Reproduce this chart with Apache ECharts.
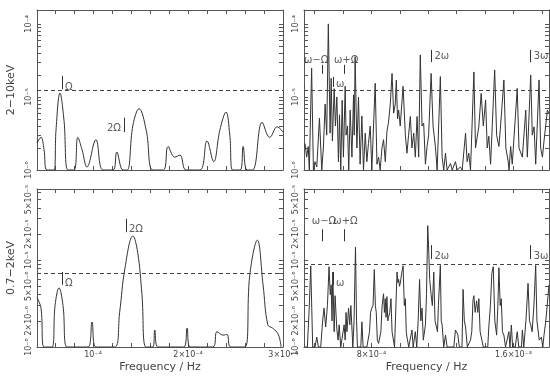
<!DOCTYPE html>
<html>
<head>
<meta charset="utf-8">
<script src="https://cdn.jsdelivr.net/npm/echarts@6/dist/echarts.min.js"></script>
<style>
  html, body { margin: 0; background: #fff; }
  #chart { width: 550px; height: 377px; }
</style>
</head>
<body>
<div id="chart"></div>
<script>
// power spectra, left panels: freq in units of 1e-5 Hz, right panels: 1e-4 Hz
const tlFreq = [4.1, 4.52, 4.84, 5.15, 5.9, 6.1, 6.52, 6.94, 7.36, 8.0, 8.4, 8.84, 9.36, 10.3, 11.05, 12.1, 12.5, 13.15, 13.6, 14.2, 14.85, 15.6, 16.3, 17.4, 17.9, 18.6, 19.15, 19.8, 21.25, 22.0, 22.7, 23.35, 24.0, 24.4, 24.7, 25.5, 25.8, 26.2, 26.8, 27.8, 28.6, 29.4, 30.0];
const tlPower = [2.35e-6, 2.8e-6, 1.9e-6, 1e-6, 1e-6, 3.5e-6, 1.13e-5, 4.8e-6, 1e-6, 1e-6, 2.8e-6, 1.9e-6, 1.1e-6, 2.6e-6, 1e-6, 1e-6, 1.76e-6, 1e-6, 1e-6, 4.1e-6, 6.9e-6, 3.5e-6, 1e-6, 1e-6, 2.1e-6, 1.5e-6, 1.6e-6, 1e-6, 1e-6, 2.5e-6, 1.3e-6, 3.5e-6, 6.2e-6, 3e-6, 1e-6, 1e-6, 2.1e-6, 1e-6, 1e-6, 4.5e-6, 2.8e-6, 3.9e-6, 3.3e-6];

const blFreq = [4.1, 4.52, 4.84, 5.68, 6.0, 6.42, 6.84, 7.26, 9.47, 9.89, 10.3, 12.3, 12.8, 13.36, 14.2, 14.7, 15.15, 15.57, 16.3, 16.5, 16.8, 19.57, 19.9, 20.2, 22.6, 23.05, 23.7, 24.1, 24.5, 26.0, 26.5, 27.3, 27.9, 28.4, 28.9, 29.5, 29.8];
const blPower = [3.7e-6, 2.8e-6, 1e-6, 1e-6, 3.0e-6, 4.8e-6, 3.0e-6, 1e-6, 1e-6, 1.94e-6, 1e-6, 1e-6, 2.5e-6, 8.1e-6, 1.9e-5, 1.23e-5, 4e-6, 1e-6, 1e-6, 1.57e-6, 1e-6, 1e-6, 1.65e-6, 1e-6, 1e-6, 1.5e-6, 1.37e-6, 1.4e-6, 1e-6, 1e-6, 6.7e-6, 1.7e-5, 5.2e-6, 1.8e-6, 1.65e-6, 1.4e-6, 1e-6];

const trFreq = [4.26, 4.35, 4.44, 4.5, 4.63, 4.73, 4.82, 4.92, 5.07, 5.2,
  5.29, 5.39, 5.48, 5.57, 5.67, 5.73, 5.8, 5.9, 5.97, 6.05,
  6.14, 6.2, 6.27, 6.35, 6.42, 6.52, 6.57, 6.65, 6.72, 6.8,
  6.9, 6.99, 7.03, 7.08, 7.18, 7.27, 7.36, 7.46, 7.55, 7.65,
  7.74, 7.83, 7.93, 8.02, 8.21, 8.31, 8.4, 8.49, 8.59, 8.68,
  8.78, 8.87, 8.96, 9.06, 9.16, 9.25, 9.34, 9.4, 9.47, 9.53,
  9.62, 9.78, 9.91, 10.0, 10.09, 10.19, 10.28, 10.38, 10.47, 10.57,
  10.66, 10.75, 10.85, 10.94, 11.04, 11.13, 11.22, 11.36, 11.47, 11.6,
  11.7, 11.88, 11.98, 12.07, 12.17, 12.26, 12.45, 12.55, 12.73, 12.83,
  13.01, 13.11, 13.3, 13.39, 13.48, 13.58, 13.77, 13.86, 13.96, 14.05,
  14.18, 14.3, 14.43, 14.52, 14.61, 14.71, 14.94, 15.05, 15.18, 15.27,
  15.46, 15.57, 15.69, 15.75, 15.84, 15.93, 16.21, 16.31, 16.4, 16.5,
  16.69, 16.78, 16.97, 17.06, 17.16, 17.25, 17.44, 17.53, 17.63, 17.72,
  17.91, 18.0];
const trPower = [2.3e-6, 1.5e-6, 2.1e-6, 1e-6, 2.47e-5, 1e-6, 1.3e-6, 1.1e-6, 5.1e-6, 1e-6,
  2e-6, 8e-6, 3e-6, 1e-4, 3.2e-6, 1.8e-5, 2.5e-6, 1.3e-5, 4e-6, 1.0e-5,
  1.3e-6, 5.7e-6, 1e-6, 9e-6, 1.5e-6, 1.4e-5, 3e-6, 4e-6, 1e-6, 6.6e-6,
  1.5e-6, 1.07e-5, 3e-6, 3.56e-5, 2e-6, 1.0e-5, 1.2e-6, 5.5e-6, 1e-6, 3.2e-6,
  1.3e-6, 2.3e-6, 4e-6, 1e-6, 1.54e-5, 1.2e-6, 1.5e-6, 1e-6, 2e-6, 2.6e-6,
  1.3e-6, 3.35e-6, 4.5e-6, 8e-6, 2.1e-5, 6e-6, 8e-6, 1.7e-5, 5e-6, 6.6e-6,
  4e-6, 1.4e-5, 3e-6, 1.7e-6, 3e-6, 5.4e-6, 2e-6, 3.2e-6, 1.5e-6, 5.4e-6,
  1.5e-6, 3.76e-5, 4e-6, 4.4e-6, 1.2e-6, 2.1e-6, 3e-6, 2.1e-5, 4e-6, 2.1e-6,
  1e-6, 1.9e-5, 1.5e-6, 1e-6, 1.7e-6, 1e-6, 1.23e-6, 1e-6, 1.3e-6, 1e-6,
  1.1e-6, 1e-6, 3.2e-6, 1.3e-6, 1.7e-6, 1e-6, 2.2e-5, 2e-6, 1.9e-6, 4e-6,
  1.12e-5, 4e-6, 9.1e-6, 2e-6, 2.9e-6, 1.2e-6, 2.34e-5, 3e-6, 2.1e-6, 4e-6,
  1.71e-5, 2e-6, 1.37e-6, 1e-6, 2.1e-6, 1.2e-6, 1.31e-5, 2e-6, 1.9e-6, 1.5e-6,
  6.6e-6, 1.5e-6, 2.0e-5, 3e-6, 3.9e-6, 1.2e-6, 1.71e-5, 2e-6, 1.5e-6, 2.5e-6,
  6.6e-6, 6e-6];

const brFreq = [4.26, 4.39, 4.5, 4.58, 4.69, 4.82, 4.92, 5.01, 5.14, 5.26,
  5.33, 5.42, 5.52, 5.61, 5.68, 5.73, 5.78, 5.82, 5.9, 5.95,
  6.05, 6.12, 6.18, 6.27, 6.38, 6.46, 6.52, 6.57, 6.62, 6.71,
  6.78, 6.84, 6.95, 7.02, 7.1, 7.16, 7.21, 7.4, 7.46, 7.53,
  7.74, 7.89, 7.95, 8.02, 8.09, 8.16, 8.22, 8.27, 8.33, 8.4,
  8.53, 8.6, 8.68, 8.73, 8.78, 8.82, 8.87, 8.92, 8.96, 9.03,
  9.1, 9.16, 9.21, 9.3, 9.44, 9.49, 9.53, 9.58, 9.62, 9.7,
  9.78, 9.85, 9.91, 9.96, 10.0, 10.1, 10.2, 10.28, 10.35, 10.4,
  10.47, 10.55, 10.63, 10.71, 10.78, 10.85, 10.92, 11.04, 11.1, 11.17,
  11.23, 11.28, 11.36, 11.43, 11.51, 11.58, 11.66, 11.72, 11.77, 11.88,
  11.93, 11.98, 12.07, 12.17, 12.26, 12.64, 12.73, 12.86, 12.95, 13.1,
  13.16, 13.23, 13.3, 13.4, 13.58, 13.65, 13.72, 13.77, 13.84, 13.92,
  13.99, 14.05, 14.12, 14.18, 14.3, 14.55, 14.61, 14.7, 14.78, 14.86,
  14.95, 15.05, 15.12, 15.18, 15.25, 15.31, 15.38, 15.46, 15.55, 15.66,
  15.74, 15.8, 15.88, 15.95, 16.1, 16.21, 16.3, 16.45, 16.5, 16.58,
  16.7, 16.82, 16.9, 16.97, 17.05, 17.15, 17.25, 17.32, 17.38, 17.45,
  17.57, 17.65, 17.72, 17.82, 17.91, 18.0];
const brPower = [1e-6, 1e-6, 3e-6, 8.6e-6, 1e-6, 1e-6, 1.3e-6, 1e-6, 1e-6, 2.1e-6,
  2.8e-6, 1.7e-6, 3e-6, 8.4e-6, 4e-6, 5.2e-6, 2e-6, 7.3e-6, 1.5e-6, 3.9e-6,
  1.6e-6, 1.2e-6, 1.8e-6, 1e-6, 1e-6, 1.8e-6, 1.2e-6, 2.5e-6, 1.5e-6, 2.8e-6,
  1.8e-6, 3e-6, 1e-6, 2e-6, 1.42e-5, 2e-6, 1e-6, 1e-6, 1.95e-6, 1e-6,
  1e-6, 1.5e-6, 2.5e-6, 2.8e-6, 3e-6, 7.8e-6, 3e-6, 2.5e-6, 1.2e-6, 1.1e-6,
  1.5e-6, 3e-6, 4.1e-6, 2.5e-6, 3.6e-6, 2.2e-6, 3.8e-6, 2e-6, 2.2e-6, 2.5e-6,
  3.6e-6, 1.5e-6, 1.5e-6, 1e-6, 7.3e-6, 5.5e-6, 6e-6, 5e-6, 5.4e-6, 7e-6,
  8.6e-6, 3e-6, 3.6e-6, 1.5e-6, 1.3e-6, 1e-6, 1e-6, 1.57e-6, 1e-6, 1e-6,
  1.5e-6, 1e-6, 2e-6, 6e-6, 2e-6, 2.8e-6, 1.2e-6, 1.8e-6, 4e-6, 2.5e-5,
  1.2e-5, 6e-6, 4e-6, 3e-6, 7.3e-6, 2e-6, 2.1e-6, 1.5e-6, 3e-6, 8.7e-6,
  2e-6, 1.8e-6, 1e-6, 1.37e-6, 1e-6, 1e-6, 1.57e-6, 1.4e-6, 1e-6, 1e-6,
  4.6e-6, 2e-6, 1.7e-6, 1e-6, 1.2e-6, 1.5e-6, 3.5e-6, 3.9e-6, 2.5e-6, 3.4e-6,
  2.5e-6, 3.6e-6, 1.5e-6, 1.5e-6, 1e-6, 1e-6, 1.7e-6, 3e-6, 7e-6, 8.4e-6,
  2e-6, 1.37e-6, 3e-6, 8.2e-6, 3e-6, 3.6e-6, 1.5e-6, 1.37e-6, 1e-6, 1e-6,
  1.5e-6, 1e-6, 1.79e-6, 1e-6, 1e-6, 1.5e-6, 1e-6, 1e-6, 1.57e-6, 1e-6,
  2e-6, 5.4e-6, 2e-6, 1.8e-6, 1.5e-6, 3e-6, 8.7e-6, 2e-6, 2e-6, 1.2e-6,
  1.3e-6, 1e-6, 1.37e-6, 2e-6, 3.2e-6, 5.2e-6];

// significance levels (dashed)
const topLevel = 1.25e-5;
const blLevel = 7.0e-6;
const brLevel = 9.0e-6;

// frequency markers: [freq Hz, low, high]
const tlMarks = [[6.73e-5, 1.28e-5, 1.94e-5], [13.26e-5, 3.3e-6, 5.2e-6]];
const trMarks = [[5.2e-4, 2.07e-5, 2.75e-5], [6.46e-4, 2.07e-5, 2.75e-5], [5.84e-4, 1.37e-5, 1.88e-5], [11.38e-4, 3.0e-5, 4.4e-5], [16.97e-4, 3.0e-5, 4.4e-5]];
const blMarks = [[13.47e-5, 2.1e-5, 3.0e-5], [6.73e-5, 5.2e-6, 7.3e-6]];
const brMarks = [[5.2e-4, 1.65e-5, 2.27e-5], [6.46e-4, 1.65e-5, 2.27e-5], [5.84e-4, 5.2e-6, 7.3e-6], [11.38e-4, 1.03e-5, 1.49e-5], [16.97e-4, 1.03e-5, 1.49e-5]];

// marker texts: [text, freq, power, side]
const tlNotes = [['Ω', 6.73e-5, 1.37e-5, 'right'], ['2Ω', 13.26e-5, 3.76e-6, 'left']];
const trNotes = [['ω−Ω', 4.88e-4, 3.2e-5, 'inside'], ['ω+Ω', 6.57e-4, 3.2e-5, 'inside'], ['ω', 5.84e-4, 1.5e-5, 'right'], ['2ω', 11.38e-4, 3.56e-5, 'right'], ['3ω', 16.97e-4, 3.56e-5, 'right']];
const blNotes = [['2Ω', 13.47e-5, 2.27e-5, 'right'], ['Ω', 6.73e-5, 5.4e-6, 'right']];
const brNotes = [['ω−Ω', 5.33e-4, 2.8e-5, 'inside'], ['ω+Ω', 6.54e-4, 2.8e-5, 'inside'], ['ω', 5.84e-4, 5.4e-6, 'right'], ['2ω', 11.38e-4, 1.11e-5, 'right'], ['3ω', 16.97e-4, 1.11e-5, 'right']];

// axis ranges, ticks and tick labels
const leftXRange = [4.1e-5, 3e-4];
const rightXRange = [4.2e-4, 1.8e-3];
const leftXTicks = [6e-5, 8e-5, 1e-4, 1.2e-4, 1.4e-4, 1.6e-4, 1.8e-4, 2e-4, 2.2e-4, 2.4e-4, 2.6e-4, 2.8e-4, 3e-4];
const leftXLabels = [1e-4, 2e-4, 3e-4];
const rightXTicks = [4.8e-4, 6.4e-4, 8e-4, 9.6e-4, 1.12e-3, 1.28e-3, 1.44e-3, 1.6e-3, 1.76e-3];
const rightXLabels = [8e-4, 1.6e-3];
const yTicks = [1e-6, 2e-6, 3e-6, 4e-6, 5e-6, 6e-6, 7e-6, 8e-6, 9e-6, 1e-5, 2e-5, 3e-5, 4e-5, 5e-5, 6e-5, 7e-5, 8e-5, 9e-5, 1e-4];
const topYLabels = [1e-6, 1e-5, 1e-4];
const botYLabels = [1e-6, 2e-6, 5e-6, 1e-5, 2e-5, 5e-5];

const FONT = 'DejaVu Sans';
const LINE = '#555';
const TEXT = '#444';

const SUP = { '-': '⁻', '0': '⁰', '1': '¹', '2': '²', '3': '³', '4': '⁴', '5': '⁵', '6': '⁶', '7': '⁷', '8': '⁸', '9': '⁹' };
function sci(v) {
  const e = Math.floor(Math.log10(v) + 1e-9);
  const m = Math.round(v / Math.pow(10, e) * 10) / 10;
  const p = '10' + String(e).split('').map(c => SUP[c]).join('');
  return m === 1 ? p : m + '×' + p;
}

const grids = [
  { left: 37, top: 10, width: 246, height: 160 },
  { left: 304, top: 10, width: 245, height: 160 },
  { left: 37, top: 189, width: 246, height: 158 },
  { left: 304, top: 189, width: 245, height: 158 }
];

function xAxes(grid, range, ticks, labels, bottomRow) {
  const base = {
    type: 'value', gridIndex: grid, min: range[0], max: range[1],
    axisLine: { show: true, onZero: false, lineStyle: { color: LINE, width: 1 } },
    axisTick: { show: true, inside: true, length: 4, customValues: ticks, lineStyle: { color: LINE } },
    splitLine: { show: false }
  };
  return [
    Object.assign({}, base, {
      position: 'bottom',
      axisLabel: { show: bottomRow, customValues: labels, formatter: sci, color: TEXT, fontSize: 8, fontFamily: FONT, margin: 4 },
      name: bottomRow ? 'Frequency / Hz' : '', nameLocation: 'middle', nameGap: 15,
      nameTextStyle: { color: TEXT, fontSize: 11, fontFamily: FONT }
    }),
    Object.assign({}, base, { position: 'top', axisLabel: { show: false } })
  ];
}

function yAxes(grid, max, labels, name) {
  const base = {
    type: 'log', logBase: 10, gridIndex: grid, min: 1e-6, max: max,
    axisLine: { show: true, onZero: false, lineStyle: { color: LINE, width: 1 } },
    axisTick: { show: true, inside: true, length: 4, customValues: yTicks, lineStyle: { color: LINE } },
    splitLine: { show: false }, minorTick: { show: false }
  };
  return [
    Object.assign({}, base, {
      position: 'left',
      axisLabel: { customValues: labels, formatter: sci, rotate: 90, color: TEXT, fontSize: 8, fontFamily: FONT, margin: 4 },
      name: name, nameLocation: 'middle', nameGap: 20, nameRotate: 90,
      nameTextStyle: { color: TEXT, fontSize: 11, fontFamily: FONT }
    }),
    Object.assign({}, base, { position: 'right', axisLabel: { show: false } })
  ];
}

function panel(i, freq, unit, power, smooth, range, level, marks, notes) {
  const ax = i * 2;
  return [
    {
      type: 'line', xAxisIndex: ax, yAxisIndex: ax,
      data: freq.map((f, k) => [f * unit, power[k]]),
      showSymbol: false, smooth: smooth, clip: true,
      lineStyle: { color: '#333', width: 1 },
      markLine: {
        silent: true, symbol: 'none', animation: false, label: { show: false },
        lineStyle: { color: '#333', width: 1, type: 'solid' },
        data: [[
          { coord: [range[0], level], lineStyle: { type: [4, 3], color: '#444', width: 1 } },
          { coord: [range[1], level] }
        ]].concat(marks.map(m => [{ coord: [m[0], m[1]] }, { coord: [m[0], m[2]] }]))
      }
    },
    {
      type: 'scatter', xAxisIndex: ax, yAxisIndex: ax, symbolSize: 0, silent: true,
      data: notes.map(n => ({ name: n[0], value: [n[1], n[2]], label: { position: n[3] } })),
      label: { show: true, formatter: '{b}', color: '#333', fontSize: 10, fontFamily: FONT, distance: 3 }
    }
  ];
}

const option = {
  animation: false,
  backgroundColor: '#fff',
  grid: grids,
  xAxis: [].concat(
    xAxes(0, leftXRange, leftXTicks, leftXLabels, false),
    xAxes(1, rightXRange, rightXTicks, rightXLabels, false),
    xAxes(2, leftXRange, leftXTicks, leftXLabels, true),
    xAxes(3, rightXRange, rightXTicks, rightXLabels, true)
  ),
  yAxis: [].concat(
    yAxes(0, 1.55e-4, topYLabels, '2−10keV'),
    yAxes(1, 1.55e-4, topYLabels, ''),
    yAxes(2, 6.6e-5, botYLabels, '0.7−2keV'),
    yAxes(3, 6.6e-5, botYLabels, '')
  ),
  series: [].concat(
    panel(0, tlFreq, 1e-5, tlPower, 0.4, leftXRange, topLevel, tlMarks, tlNotes),
    panel(1, trFreq, 1e-4, trPower, false, rightXRange, topLevel, trMarks, trNotes),
    panel(2, blFreq, 1e-5, blPower, 0.4, leftXRange, blLevel, blMarks, blNotes),
    panel(3, brFreq, 1e-4, brPower, false, rightXRange, brLevel, brMarks, brNotes)
  )
};

const chart = echarts.init(document.getElementById('chart'), null, { renderer: 'canvas' });
chart.setOption(option);
</script>
</body>
</html>
